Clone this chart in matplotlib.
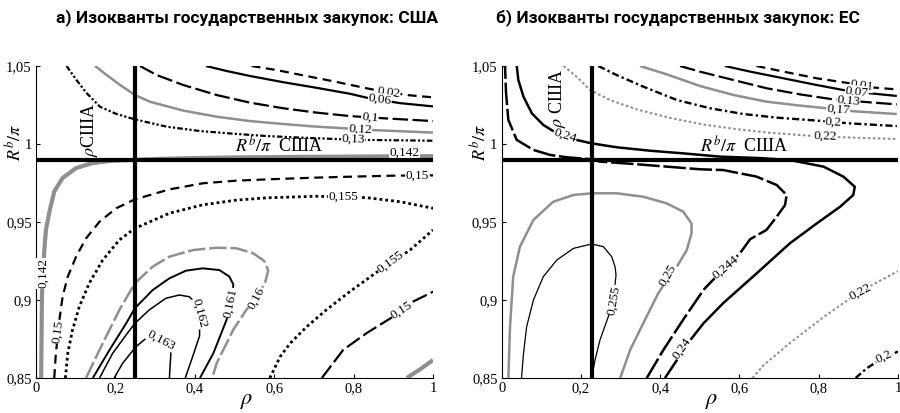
import matplotlib
matplotlib.use("Agg")
import matplotlib.pyplot as plt
import logging
logging.getLogger('matplotlib.font_manager').setLevel(logging.ERROR)

plt.rcParams['font.family'] = ['Liberation Serif', 'DejaVu Serif']
plt.rcParams['mathtext.fontset'] = 'stix'

# ---------------- data: panel a) USA ----------------
us_002_rho = [0.543, 0.606, 0.665, 0.749, 0.833, 0.887, 0.942, 1.0]
us_002_r = [1.05, 1.0474, 1.0444, 1.0402, 1.0357, 1.0331, 1.0312, 1.0299]
us_006_rho = [0.428, 0.480, 0.539, 0.623, 0.707, 0.791, 0.841, 0.917, 1.0]
us_006_r = [1.05, 1.0468, 1.0436, 1.0396, 1.036, 1.0322, 1.0292, 1.0262, 1.0241]
us_01_rho = [0.262, 0.304, 0.371, 0.455, 0.539, 0.623, 0.707, 0.791, 0.875, 1.0]
us_01_r = [1.05, 1.0442, 1.0378, 1.0314, 1.0265, 1.0229, 1.0201, 1.0179, 1.0165, 1.0147]
us_012_rho = [0.149, 0.178, 0.212, 0.249, 0.287, 0.371, 0.455, 0.539, 0.623, 0.707, 0.783, 0.841, 1.0]
us_012_r = [1.05, 1.0442, 1.0378, 1.0314, 1.0271, 1.0214, 1.0175, 1.0147, 1.0128, 1.0111, 1.0100, 1.009, 1.0073]
us_013_rho = [0.077, 0.102, 0.128, 0.161, 0.203, 0.249, 0.329, 0.413, 0.497, 0.581, 0.665, 0.774, 0.833, 1.0]
us_013_r = [1.05, 1.041, 1.0325, 1.0239, 1.0192, 1.0158, 1.0111, 1.0083, 1.0066, 1.0051, 1.0041, 1.003, 1.0026, 1.0021]
us_0142a_rho = [0.249, 0.3, 0.4, 0.5, 0.7, 1.0]
us_0142a_r = [0.9898, 0.9904, 0.991, 0.9914, 0.9918, 0.9922]
us_0142b_rho = [0.249, 0.193, 0.143, 0.101, 0.067, 0.046, 0.034, 0.025, 0.021, 0.018, 0.015, 0.013]
us_0142b_r = [0.9898, 0.9893, 0.9878, 0.9846, 0.9782, 0.9696, 0.9568, 0.9449, 0.9321, 0.918, 0.9032, 0.85]
us_0142c_rho = [0.934, 0.967, 1.0]
us_0142c_r = [0.85, 0.8555, 0.8615]
us_015a_rho = [0.046, 0.050, 0.060, 0.067, 0.080, 0.101, 0.126, 0.160, 0.202, 0.249, 0.336, 0.420, 0.504, 0.60, 0.70, 0.80, 0.90, 1.0]
us_015a_r = [0.85, 0.8658, 0.8893, 0.9021, 0.915, 0.9278, 0.9395, 0.9502, 0.9588, 0.9645, 0.9709, 0.9748, 0.9765, 0.9775, 0.9784, 0.9791, 0.9797, 0.9799]
us_015b_rho = [0.72, 0.774, 0.833, 0.900, 0.950, 1.0]
us_015b_r = [0.85, 0.8681, 0.8788, 0.8894, 0.899, 0.9053]
us_0155a_rho = [0.074, 0.080, 0.092, 0.109, 0.134, 0.168, 0.210, 0.249, 0.336, 0.420, 0.504, 0.581, 0.707, 0.833, 0.917, 1.0]
us_0155a_r = [0.85, 0.8658, 0.8808, 0.8957, 0.9107, 0.9256, 0.9385, 0.9459, 0.9556, 0.961, 0.964, 0.9655, 0.9665, 0.9656, 0.963, 0.9588]
us_0155b_rho = [0.589, 0.615, 0.640, 0.682, 0.732, 0.791, 0.867, 0.942, 1.0]
us_0155b_r = [0.85, 0.8637, 0.8722, 0.8829, 0.8938, 0.9055, 0.9194, 0.932, 0.9449]
us_016_rho = [0.126, 0.168, 0.210, 0.249, 0.294, 0.336, 0.395, 0.453, 0.504, 0.547, 0.575, 0.585, 0.578, 0.556, 0.530, 0.497, 0.455, 0.444]
us_016_r = [0.85, 0.8722, 0.8936, 0.9107, 0.9214, 0.9278, 0.932, 0.9335, 0.9332, 0.930, 0.925, 0.919, 0.912, 0.901, 0.8938, 0.881, 0.8594, 0.85]
us_0161_rho = [0.143, 0.185, 0.227, 0.249, 0.294, 0.336, 0.378, 0.420, 0.462, 0.487, 0.497, 0.493, 0.480, 0.447, 0.413]
us_0161_r = [0.85, 0.8679, 0.885, 0.8947, 0.9064, 0.9139, 0.9188, 0.9203, 0.9192, 0.915, 0.910, 0.898, 0.8873, 0.866, 0.85]
us_0162_rho = [0.160, 0.193, 0.227, 0.249, 0.285, 0.327, 0.361, 0.386, 0.399, 0.412, 0.412, 0.395, 0.376]
us_0162_r = [0.85, 0.8658, 0.8776, 0.885, 0.8936, 0.9011, 0.9032, 0.9021, 0.8989, 0.889, 0.877, 0.864, 0.85]
us_0163_rho = [0.197, 0.218, 0.252, 0.277, 0.290, 0.315, 0.335, 0.340, 0.336]
us_0163_r = [0.85, 0.8594, 0.8701, 0.8754, 0.8776, 0.8775, 0.872, 0.8669, 0.85]

# ---------------- data: panel b) EU ----------------
eu_001_rho = [0.643, 0.711, 0.795, 0.879, 0.938, 0.997]
eu_001_r = [1.05, 1.0464, 1.0421, 1.0389, 1.0362, 1.035]
eu_007_rho = [0.563, 0.627, 0.711, 0.795, 0.862, 0.929, 0.997]
eu_007_r = [1.05, 1.0464, 1.0421, 1.0378, 1.0346, 1.0325, 1.0308]
eu_013_rho = [0.450, 0.500, 0.585, 0.669, 0.753, 0.837, 0.929, 0.997]
eu_013_r = [1.05, 1.0464, 1.041, 1.0357, 1.0318, 1.0286, 1.0267, 1.0254]
eu_017_rho = [0.349, 0.416, 0.500, 0.585, 0.669, 0.753, 0.820, 0.887, 0.997]
eu_017_r = [1.05, 1.0447, 1.0372, 1.0314, 1.0271, 1.0246, 1.0229, 1.021, 1.0192]
eu_020a_rho = [0.244, 0.290, 0.357, 0.442, 0.526, 0.610, 0.694, 0.795, 0.879, 0.997]
eu_020a_r = [1.05, 1.0442, 1.0368, 1.0282, 1.0229, 1.0192, 1.0169, 1.015, 1.0132, 1.0115]
eu_020b_rho = [0.893, 0.92, 0.947, 0.975, 1.0]
eu_020b_r = [0.85, 0.856, 0.8605, 0.864, 0.867]
eu_022a_rho = [0.156, 0.189, 0.223, 0.273, 0.341, 0.425, 0.509, 0.593, 0.677, 0.778, 0.862, 0.997]
eu_022a_r = [1.05, 1.0432, 1.0346, 1.0282, 1.0222, 1.0167, 1.0125, 1.0095, 1.0072, 1.0053, 1.0043, 1.0032]
eu_022b_rho = [0.633, 0.66, 0.727, 0.812, 0.879, 0.93, 1.0]
eu_022b_r = [0.85, 0.858, 0.8724, 0.889, 0.901, 0.909, 0.9185]
eu_024_rho = [0.412, 0.433, 0.475, 0.509, 0.559, 0.643, 0.727, 0.795, 0.854, 0.887, 0.891, 0.862,
              0.812, 0.727, 0.65, 0.551, 0.458, 0.374, 0.290, 0.227, 0.189, 0.160, 0.130, 0.105,
              0.076, 0.055, 0.042, 0.038]
eu_024_r = [0.85, 0.858, 0.874, 0.885, 0.898, 0.917, 0.9363, 0.9491, 0.9598, 0.9673, 0.9726, 0.9791,
            0.9855, 0.9897, 0.991, 0.9919, 0.994, 0.9957, 0.9979, 1.0004, 1.0026, 1.0055, 1.0083, 1.0122,
            1.0197, 1.0303, 1.041, 1.05]
eu_0244_rho = [0.366, 0.408, 0.458, 0.509, 0.526, 0.565, 0.601, 0.627, 0.668, 0.694, 0.715, 0.719,
               0.694, 0.643, 0.559, 0.5, 0.416, 0.332, 0.248, 0.227, 0.164, 0.122, 0.080, 0.038,
               0.0168, 0.011, 0.0084]
eu_0244_r = [0.85, 0.868, 0.8874, 0.9064, 0.911, 0.921, 0.9299, 0.939, 0.9449, 0.9534, 0.9609, 0.9673,
             0.9737, 0.9791, 0.9833, 0.9838, 0.9855, 0.9872, 0.9887, 0.9902, 0.9915, 0.993, 0.9962, 1.0026,
             1.0154, 1.0325, 1.05]
eu_025_rho = [0.0168, 0.021, 0.029, 0.046, 0.080, 0.130, 0.181, 0.227, 0.290, 0.357, 0.416, 0.458,
              0.479, 0.479, 0.467, 0.442, 0.420, 0.395, 0.357, 0.324, 0.299]
eu_025_r = [0.85, 0.8829, 0.915, 0.9342, 0.9513, 0.963, 0.9673, 0.9684, 0.9684, 0.9662, 0.962, 0.9566,
            0.9491, 0.9427, 0.932, 0.9214, 0.914, 0.9043, 0.885, 0.8679, 0.85]
eu_0255_rho = [0.050, 0.055, 0.063, 0.080, 0.105, 0.139, 0.181, 0.227, 0.2565, 0.2775, 0.286, 0.2885,
               0.282, 0.269, 0.248, 0.2355, 0.227]
eu_0255_r = [0.85, 0.8658, 0.8829, 0.9, 0.915, 0.9256, 0.9331, 0.9359, 0.9342, 0.9278, 0.9214, 0.916,
             0.90, 0.8893, 0.8744, 0.8615, 0.85]

# reference levels (thick black lines)
us_rho_ref = 0.25
eu_rho_ref = 0.228
rb_ref = 0.99

# tick labels
x_ticks = [0, 0.2, 0.4, 0.6, 0.8, 1.0]
x_ticklabels = ['0', '0,2', '0,4', '0,6', '0,8', '1']
y_ticks = [0.85, 0.9, 0.95, 1.0, 1.05]
y_ticklabels = ['0,85', '0,9', '0,95', '1', '1,05']

titles = ['а) Изокванты государственных закупок: США', 'б) Изокванты государственных закупок: ЕС']

# ---------------- styles ----------------
SERIF = ['Liberation Serif', 'DejaVu Serif']
GRAY = '#8f8f8f'
S_SOLID = dict(color='k', lw=1.6, ls='-')
S_DASH = dict(color='k', lw=1.6, ls=(0, (4, 2.5)))
S_LDASH = dict(color='k', lw=1.6, ls=(0, (7, 2)))
S_DDOT = dict(color='k', lw=1.6, ls=(0, (2.5, 1, 1, 1, 1, 1)))
S_DOT = dict(color='k', lw=2.0, ls=(0, (1, 1.1)))
S_GSOLID = dict(color=GRAY, lw=1.8, ls='-')
S_GTHICK = dict(color=GRAY, lw=3.0, ls='-')
S_GDASH = dict(color=GRAY, lw=1.8, ls=(0, (7, 1.5)))
S_GDOT = dict(color=GRAY, lw=1.5, ls=(0, (1.2, 1.2)))
S_DASHDOT = dict(color='k', lw=1.7, ls=(0, (3, 1.3, 1, 1.3)))

us_curves = [
    (us_002_rho, us_002_r, S_DASH),
    (us_006_rho, us_006_r, S_SOLID),
    (us_01_rho, us_01_r, S_LDASH),
    (us_012_rho, us_012_r, S_GSOLID),
    (us_013_rho, us_013_r, S_DDOT),
    (us_0142a_rho, us_0142a_r, S_GTHICK),
    (us_0142b_rho, us_0142b_r, S_GTHICK),
    (us_0142c_rho, us_0142c_r, S_GTHICK),
    (us_015a_rho, us_015a_r, S_DASH),
    (us_015b_rho, us_015b_r, S_LDASH),
    (us_0155a_rho, us_0155a_r, S_DOT),
    (us_0155b_rho, us_0155b_r, S_DOT),
    (us_016_rho, us_016_r, S_GDASH),
    (us_0161_rho, us_0161_r, dict(color='k', lw=1.4)),
    (us_0162_rho, us_0162_r, dict(color='k', lw=1.1)),
    (us_0163_rho, us_0163_r, dict(color='k', lw=1.1)),
]
us_labels = [
    ('0,02', 0.888, 1.0328, -8), ('0,06', 0.866, 1.0284, -8), ('0,1', 0.841, 1.0169, -5),
    ('0,12', 0.816, 1.0094, -3), ('0,13', 0.799, 1.0029, -2), ('0,142', 0.929, 0.9945, 0),
    ('0,15', 0.959, 0.9799, 0), ('0,155', 0.774, 0.9662, 0), ('0,142', 0.017, 0.917, 90),
    ('0,15', 0.055, 0.8797, 82), ('0,155', 0.892, 0.9245, 36), ('0,15', 0.921, 0.8936, 33),
    ('0,16', 0.556, 0.901, 62), ('0,161', 0.49, 0.898, 78), ('0,162', 0.413, 0.8914, -75),
    ('0,163', 0.315, 0.8744, -28),
]

eu_curves = [
    (eu_001_rho, eu_001_r, S_DASH),
    (eu_007_rho, eu_007_r, S_SOLID),
    (eu_013_rho, eu_013_r, S_LDASH),
    (eu_017_rho, eu_017_r, S_GSOLID),
    (eu_020a_rho, eu_020a_r, S_DASHDOT),
    (eu_020b_rho, eu_020b_r, S_DASHDOT),
    (eu_022a_rho, eu_022a_r, S_GDOT),
    (eu_022b_rho, eu_022b_r, S_GDOT),
    (eu_024_rho, eu_024_r, dict(color='k', lw=1.8)),
    (eu_0244_rho, eu_0244_r, dict(color='k', lw=1.8, ls=(0, (9, 1.5)))),
    (eu_025_rho, eu_025_r, dict(color=GRAY, lw=1.8)),
    (eu_0255_rho, eu_0255_r, dict(color='k', lw=0.9)),
]
eu_labels = [
    ('0,01', 0.908, 1.0376, -8), ('0,07', 0.896, 1.0335, -6), ('0,13', 0.875, 1.0278, -5),
    ('0,17', 0.849, 1.0218, -4), ('0,2', 0.837, 1.0143, -3), ('0,22', 0.816, 1.0049, -2),
    ('0,24', 0.160, 1.0055, -18), ('0,24', 0.455, 0.869, 55), ('0,244', 0.565, 0.921, 40),
    ('0,25', 0.42, 0.916, 60), ('0,255', 0.282, 0.90, 80), ('0,22', 0.904, 0.9053, 28),
    ('0,2', 0.963, 0.8637, 25),
]

fig = plt.figure(figsize=(9, 4.13), dpi=100)
ax_us = fig.add_axes([36 / 900, 1 - 378 / 413, 397 / 900, 312 / 413])
ax_eu = fig.add_axes([501.7 / 900, 1 - 378 / 413, 396.3 / 900, 312 / 413])


def draw(ax, curves, labels, rho_ref, title, ann_text, ann_rho_x, ann_rho_y, title_x):
    for xs, ys, st in curves:
        ax.plot(xs, ys, solid_capstyle='butt', dash_capstyle='butt', zorder=3, **st)
    ax.axhline(rb_ref, color='k', lw=3.0, zorder=6)
    ax.axvline(rho_ref, color='k', lw=3.0, zorder=6)
    for txt, x, y, rot in labels:
        ax.text(x, y, txt, fontsize=9.5, rotation=rot, family=SERIF,
                ha='center', va='center', zorder=5,
                bbox=dict(facecolor='white', edgecolor='none', pad=0.3))
    ax.set_xlim(0, 1)
    ax.set_ylim(0.85, 1.05)
    ax.set_xticks(x_ticks)
    ax.set_xticklabels(x_ticklabels, family=SERIF, fontsize=10.5)
    ax.set_yticks(y_ticks)
    ax.set_yticklabels(y_ticklabels, family=SERIF, fontsize=10.5)
    ax.tick_params(direction='in', length=3, width=0.8, pad=3)
    for s in ('top', 'right'):
        ax.spines[s].set_visible(False)
    for s in ('left', 'bottom'):
        ax.spines[s].set_linewidth(0.8)
    ax.text(0.612, 0.9985, r'$R^b/\pi$' + '  США', fontsize=13, family=SERIF,
            ha='center', va='center', zorder=7)
    ax.text(ann_rho_x, ann_rho_y, ann_text, fontsize=13, rotation=90, family=SERIF,
            ha='center', va='center', zorder=7)
    ax.text(0.53, -0.075, r'$\rho$', fontsize=16, transform=ax.transAxes, ha='center', va='center')
    ax.text(-0.053, 0.755, r'$R^b/\pi$', fontsize=13, rotation=90, transform=ax.transAxes,
            ha='center', va='center')
    fig.text(title_x, 1 - 18 / 413, title, fontsize=12.5, fontweight='bold',
             family=['Roboto', 'DejaVu Sans'], ha='center', va='center')


draw(ax_us, us_curves, us_labels, us_rho_ref, titles[0], r'$\rho$' + 'США', 0.136, 1.009, 247 / 900)
draw(ax_eu, eu_curves, eu_labels, eu_rho_ref, titles[1], r'$\rho$' + ' США', 0.142, 1.0295, 678 / 900)

fig.savefig('out.png', dpi=100)
